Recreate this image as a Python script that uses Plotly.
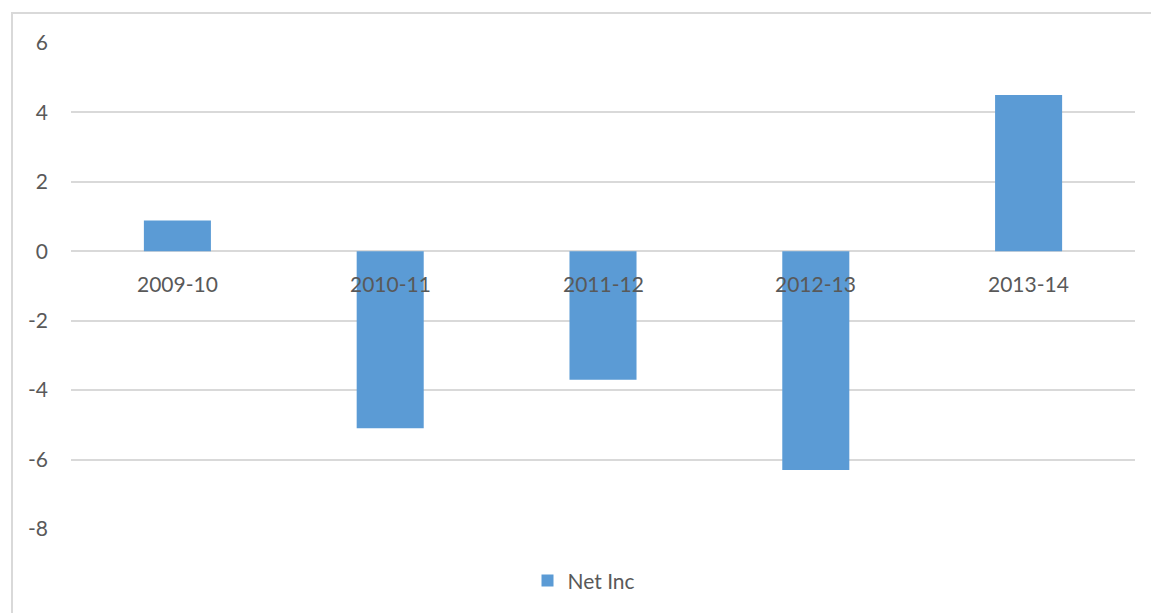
import plotly.graph_objects as go

categories = ["2009-10", "2010-11", "2011-12", "2012-13", "2013-14"]
net_inc = [0.89, -5.1, -3.7, -6.3, 4.5]
y_ticks = [-8, -6, -4, -2, 0, 2, 4, 6]
y_tick_text = ["-8", "-6", "-4", "-2", "0", "2", "4", "6"]
series_name = "Net Inc"

W, H = 1151, 613
L, R, T, B = 71, 16, 43, 82
pw = W - L - R
ph = H - T - B

text_color = "#595959"
grid_color = "#D9D9D9"
bar_color = "#5B9BD5"
font_family = "Lato, Carlito, Calibri, sans-serif"

fig = go.Figure()
fig.add_trace(go.Bar(x=categories, y=net_inc, name=series_name,
                     marker=dict(color=bar_color, line=dict(width=0))))

for c in categories:
    fig.add_annotation(x=c, y=0, xref="x", yref="y", text=c, showarrow=False,
                       yanchor="middle", xanchor="center", yshift=-32,
                       font=dict(family=font_family, size=21, color=text_color))

# chart border
fig.add_shape(type="rect", xref="paper", yref="paper",
              x0=(12 - L) / pw, x1=(1156 - L) / pw,
              y0=(T + ph - 620) / ph, y1=(T + ph - 13) / ph,
              line=dict(color=grid_color, width=2), layer="below")

fig.update_layout(
    width=W, height=H,
    margin=dict(l=L, r=R, t=T, b=B),
    paper_bgcolor="white", plot_bgcolor="white",
    bargap=0.685,
    showlegend=True,
    legend=dict(orientation="h", x=(592 - 8 - L) / pw, xanchor="center",
                y=(T + ph - 583) / ph, yanchor="middle",
                font=dict(family=font_family, size=21, color=text_color)),
    xaxis=dict(type="category", showticklabels=False, showgrid=False,
               zeroline=False, showline=False, ticks=""),
    yaxis=dict(range=[-8, 6], tickvals=y_ticks, ticktext=y_tick_text,
               showgrid=True, gridcolor=grid_color, gridwidth=1.5,
               zeroline=True, zerolinecolor=grid_color, zerolinewidth=1.5,
               showline=False, ticks="", ticklabelstandoff=22,
               tickfont=dict(family=font_family, size=21, color=text_color)),
    font=dict(family=font_family, color=text_color),
)

fig.write_html("out.html")
